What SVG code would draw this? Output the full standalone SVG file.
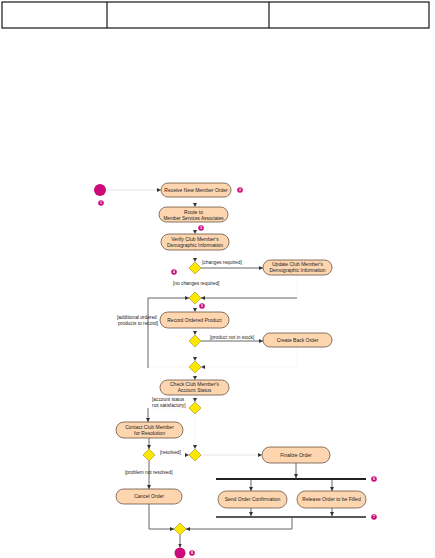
<svg xmlns="http://www.w3.org/2000/svg" width="435" height="558" viewBox="0 0 435 558">
<style>
.pill{fill:#fdd6b0;stroke:#6a5442;stroke-width:0.8}
.dia{fill:#ffe800;stroke:#9a8a20;stroke-width:0.6}
.t{font-family:"Liberation Sans",Arial,sans-serif;font-size:5px;fill:#222;text-anchor:middle}
.l{font-family:"Liberation Sans",Arial,sans-serif;font-size:4.8px;fill:#222}
.dk{fill:none;stroke:#555;stroke-width:0.9}
.ft{fill:none;stroke:#e2e2e2;stroke-width:0.9}
.vf{fill:none;stroke:#f6f6f6;stroke-width:0.9}
.bar{stroke:#222;stroke-width:2}
.mag{fill:#cc0a7a}
.bt{font-family:"Liberation Sans",Arial,sans-serif;font-size:3.6px;fill:#fff;text-anchor:middle;font-weight:bold}
</style>
<defs>
<marker id="ah" viewBox="0 0 6 6" refX="6" refY="3" markerWidth="4" markerHeight="4" markerUnits="userSpaceOnUse" orient="auto">
<path d="M0,0 L6,3 L0,6 z" fill="#333"/>
</marker>
</defs>
<g id="header" fill="none" stroke="#000" stroke-width="1.1">
<rect x="2" y="2" width="427" height="26"/>
<line x1="107" y1="2" x2="107" y2="28"/>
<line x1="269" y1="2" x2="269" y2="28"/>
</g>
<g id="connectors">
<path class="ft" d="M106,190 H161" marker-end="url(#ah)"/>
<path class="vf" d="M195,196 V207" marker-end="url(#ah)"/>
<path class="vf" d="M195,222 V234" marker-end="url(#ah)"/>
<path class="vf" d="M195,250 V262" marker-end="url(#ah)"/>
<path class="dk" d="M201,268 H263" marker-end="url(#ah)"/>
<path class="vf" d="M195,274 V292"/>
<path class="vf" d="M297,275 V298"/>
<path class="dk" d="M297,298 H201" marker-end="url(#ah)"/>
<path class="vf" d="M189,367 H148"/>
<path class="dk" d="M148,368 V298 H189" marker-end="url(#ah)"/>
<path class="vf" d="M195,304 V312" marker-end="url(#ah)"/>
<path class="vf" d="M195,328 V335" marker-end="url(#ah)"/>
<path class="dk" d="M201,341 H263" marker-end="url(#ah)"/>
<path class="vf" d="M195,347 V361" marker-end="url(#ah)"/>
<path class="vf" d="M297,347 V367 H201" marker-end="url(#ah)"/>
<path class="vf" d="M195,373 V380" marker-end="url(#ah)"/>
<path class="vf" d="M195,395 V402" marker-end="url(#ah)"/>
<path class="vf" d="M189,408 H148"/>
<path class="dk" d="M148,408 V422" marker-end="url(#ah)"/>
<path class="vf" d="M195,414 V449" marker-end="url(#ah)"/>
<path class="dk" d="M149,438 V449" marker-end="url(#ah)"/>
<path class="vf" d="M155,455 H189" marker-end="url(#ah)"/>
<path class="dk" d="M149,461 V489" marker-end="url(#ah)"/>
<path class="ft" d="M201,455 H262" marker-end="url(#ah)"/>
<path class="dk" d="M296,463 V478" marker-end="url(#ah)"/>
<path class="dk" d="M251,480 V491" marker-end="url(#ah)"/>
<path class="dk" d="M332,480 V491" marker-end="url(#ah)"/>
<path class="dk" d="M251,508 V516" marker-end="url(#ah)"/>
<path class="dk" d="M332,508 V516" marker-end="url(#ah)"/>
<path class="dk" d="M292,518 V529 H186" marker-end="url(#ah)"/>
<path class="dk" d="M149,504 V529 H174" marker-end="url(#ah)"/>
<path class="dk" d="M180,535 V547.5" marker-end="url(#ah)"/>
</g>
<g id="start"><circle class="mag" cx="100" cy="190" r="6"/></g>
<g id="receive"><rect class="pill" x="161" y="183" width="70" height="14" rx="7"/><text class="t" x="196" y="191.8">Receive New Member Order</text></g>
<g id="route"><rect class="pill" x="159" y="207" width="69" height="15" rx="7.5"/><text class="t" x="193.5" y="213.5">Route to</text><text class="t" x="193.5" y="219.5" style="font-size:4.7px">Member Services Associates</text></g>
<g id="verify"><rect class="pill" x="161" y="234" width="68" height="16" rx="8"/><text class="t" x="195" y="240.5">Verify Club Member's</text><text class="t" x="195" y="246.5">Demographic Information</text></g>
<g id="d1"><path class="dia" d="M195,262 L201,268 L195,274 L189,268 z"/></g>
<g id="update"><rect class="pill" x="263" y="260" width="69" height="15" rx="7.5"/><text class="t" x="297.5" y="266.3">Update Club Member's</text><text class="t" x="297.5" y="272.3">Demographic Information</text></g>
<g id="d2"><path class="dia" d="M195,292 L201,298 L195,304 L189,298 z"/></g>
<g id="record"><rect class="pill" x="160" y="312" width="69" height="16" rx="8"/><text class="t" x="194.5" y="321.8">Record Ordered Product</text></g>
<g id="d3"><path class="dia" d="M195,335 L201,341 L195,347 L189,341 z"/></g>
<g id="backorder"><rect class="pill" x="263" y="333" width="69" height="14" rx="7"/><text class="t" x="297.5" y="341.8">Create Back Order</text></g>
<g id="d4"><path class="dia" d="M195,361 L201,367 L195,373 L189,367 z"/></g>
<g id="check"><rect class="pill" x="160" y="380" width="69" height="15" rx="7.5"/><text class="t" x="194.5" y="386.3">Check Club Member's</text><text class="t" x="194.5" y="392.3">Account Status</text></g>
<g id="d5"><path class="dia" d="M195,402 L201,408 L195,414 L189,408 z"/></g>
<g id="contact"><rect class="pill" x="116" y="422" width="67" height="16" rx="8"/><text class="t" x="149.5" y="428.5">Contact Club Member</text><text class="t" x="149.5" y="434.5">for Resolution</text></g>
<g id="d7"><path class="dia" d="M149,449 L155,455 L149,461 L143,455 z"/></g>
<g id="d6"><path class="dia" d="M195,449 L201,455 L195,461 L189,455 z"/></g>
<g id="finalize"><rect class="pill" x="262" y="447" width="68" height="16" rx="8"/><text class="t" x="296" y="456.8">Finalize Order</text></g>
<g id="cancel"><rect class="pill" x="116" y="489" width="66" height="15" rx="7.5"/><text class="t" x="149" y="498.3">Cancel Order</text></g>
<g id="fork"><line class="bar" x1="216" y1="479" x2="366" y2="479"/></g>
<g id="send"><rect class="pill" x="218" y="491" width="69" height="17" rx="8.5"/><text class="t" x="252.5" y="501.3">Send Order Confirmation</text></g>
<g id="release"><rect class="pill" x="297" y="491" width="69" height="17" rx="8.5"/><text class="t" x="331.5" y="501.3">Release Order to be Filled</text></g>
<g id="join"><line class="bar" x1="216" y1="517" x2="366" y2="517" style="stroke-width:1.5"/></g>
<g id="dfinal"><path class="dia" d="M180,523 L186,529 L180,535 L174,529 z"/></g>
<g id="end"><circle class="mag" cx="180" cy="553" r="5.5"/></g>
<g id="labels">
<text class="l" x="202" y="263.5">[changes required]</text>
<text class="l" x="173" y="284.5">[no changes required]</text>
<text class="l" x="117" y="319">[additional ordered</text>
<text class="l" x="118" y="325">products to record]</text>
<text class="l" x="210" y="338.5">[product not in stock]</text>
<text class="l" x="152" y="401">[account status</text>
<text class="l" x="152" y="406.5">not satisfactory]</text>
<text class="l" x="160" y="453.5">[resolved]</text>
<text class="l" x="125" y="473.5">[problem not resolved]</text>
</g>
<g id="badges">
<circle class="mag" cx="101" cy="203" r="2.8"/><text class="bt" x="101" y="204.3">1</text>
<circle class="mag" cx="240" cy="190" r="2.8"/><text class="bt" x="240" y="191.3">2</text>
<circle class="mag" cx="201" cy="228" r="2.8"/><text class="bt" x="201" y="229.3">3</text>
<circle class="mag" cx="174" cy="272" r="2.8"/><text class="bt" x="174" y="273.3">4</text>
<circle class="mag" cx="202" cy="306" r="2.8"/><text class="bt" x="202" y="307.3">5</text>
<circle class="mag" cx="374" cy="479" r="2.8"/><text class="bt" x="374" y="480.3">6</text>
<circle class="mag" cx="374" cy="517" r="2.8"/><text class="bt" x="374" y="518.3">7</text>
<circle class="mag" cx="192" cy="553" r="2.8"/><text class="bt" x="192" y="554.3">8</text>
</g>
</svg>
